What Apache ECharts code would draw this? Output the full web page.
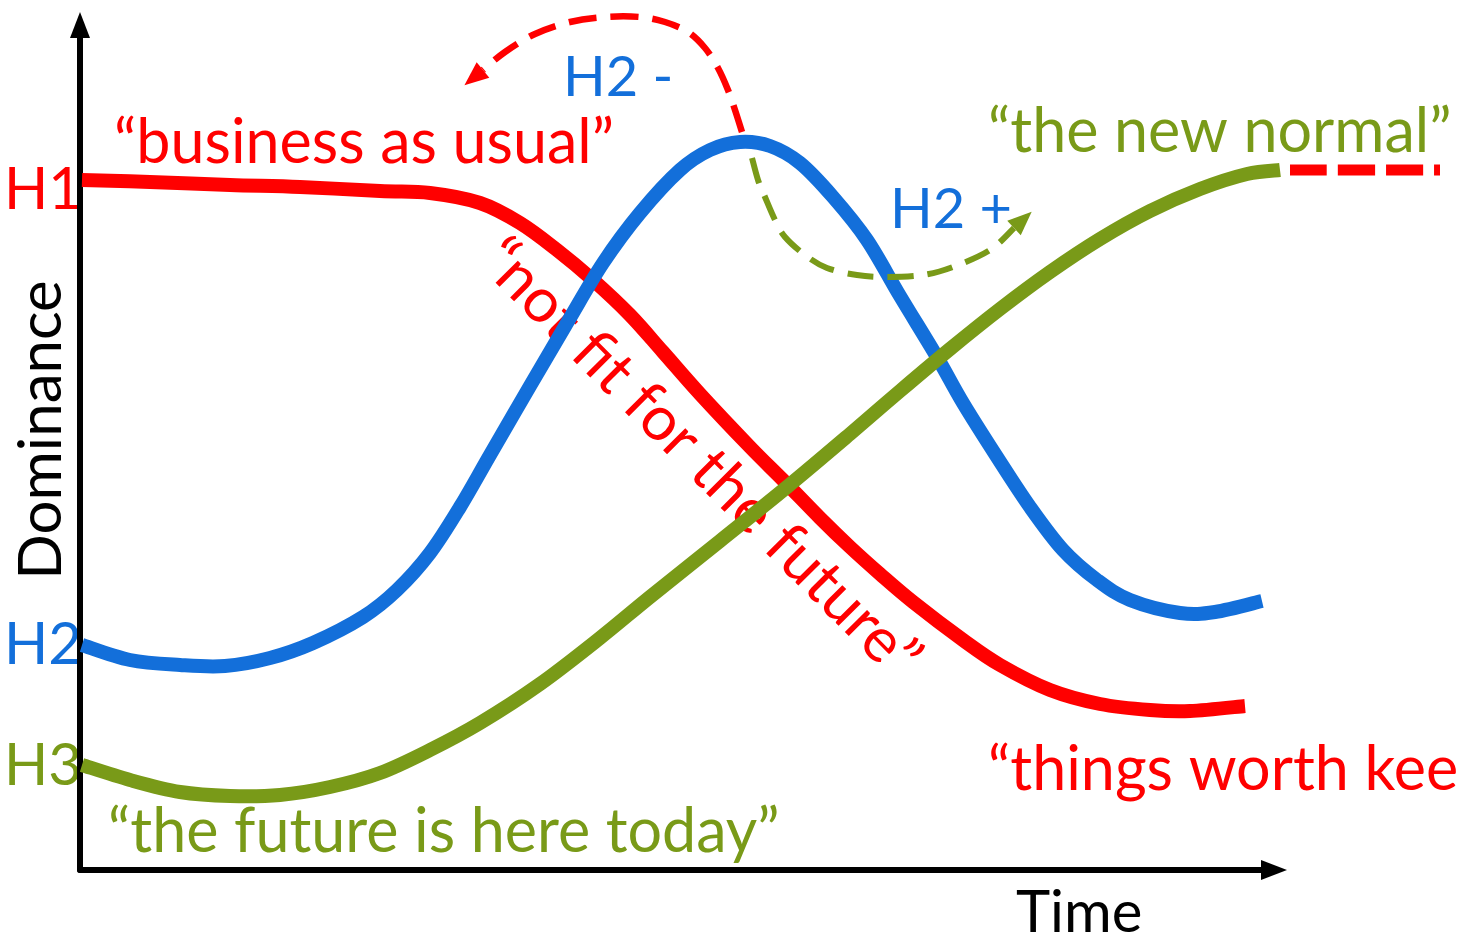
<!DOCTYPE html>
<html><head><meta charset="utf-8">
<script src="https://cdn.jsdelivr.net/npm/echarts@6/dist/echarts.min.js"></script>
<style>html,body{margin:0;padding:0;background:#fff;overflow:hidden}#c{width:1460px;height:941px}</style>
</head><body><div id="c"></div>
<script>
// Three Horizons: values in abstract units (time, dominance)
const h1Values = [[0.2,69],[7,68.8],[15,68.5],[22,68.3],[30,67.9],[35,67.7],[40,66.7],[44,64.7],[47.7,62],[51.3,59],[55,55.5],[58.3,51.8],[62,47.6],[67,42.3],[70.3,39],[74,35.2],[77,32.3],[80,29.6],[83.3,26.8],[88.3,23],[92,20.5],[97,18],[102,16.6],[107,16],[111,15.9],[116.5,16.4]];
const h2Values = [[0.2,22.5],[5,21],[10,20.5],[14.5,20.4],[19,21.2],[23.3,22.7],[28.3,25.3],[31.7,28],[35,31.7],[38,36.3],[41,41.5],[45,48.4],[48.7,54.7],[52.3,60.7],[56,65.7],[60,70],[63,72],[66,72.8],[69,72.4],[72,70.7],[75.3,67.3],[78.7,63],[82,57.4],[85.7,51.3],[88.3,46.7],[91.7,41.3],[95,36.3],[98.3,32],[101.7,29],[105,27],[110,25.7],[113.5,25.8],[118.2,26.9]];
const h3Values = [[0.2,10.5],[5,9],[10,7.8],[15,7.4],[20,7.5],[25,8.3],[30,9.7],[35,12],[40,14.7],[46,18.6],[52,23.2],[57,27.3],[64,32.9],[70.7,38.3],[77,43.6],[82,47.9],[87,52.1],[92,56.1],[97,59.8],[102,63.1],[107,65.9],[112,68.1],[116.7,69.6],[120,70]];
const h1Continuation = [[121,70],[136,70]];
const h2MinusArc = [[66.2,73.8],[65.5,76],[64.8,78],[63.8,80.2],[62.5,82.2],[60.8,83.8],[58.5,84.8],[56,85.3],[52.5,85.3],[49,84.8],[45.5,83.6],[42.5,81.8],[40.3,80]];
const h2PlusArc = [[67.2,71.2],[67.8,69],[68.5,67.3],[69.5,65],[70.5,63.3],[72.5,61.5],[74.7,60.2],[77.7,59.5],[80.7,59.3],[84.3,59.5],[87.3,60.3],[91,62],[93.4,64.2]];

const RED = '#FF0000', BLUE = '#136FDA', GREEN = '#799A18';
const FONT = 'Lato';

// smooth path through the pixel points given by the axes (Catmull-Rom as cubic Bezier)
function smoothPath(pts) {
  let d = 'M' + pts[0][0] + ' ' + pts[0][1];
  for (let i = 0; i < pts.length - 1; i++) {
    const p0 = pts[i - 1] || pts[i], p1 = pts[i], p2 = pts[i + 1], p3 = pts[i + 2] || pts[i + 1];
    const c1x = p1[0] + (p2[0] - p0[0]) / 6, c1y = p1[1] + (p2[1] - p0[1]) / 6;
    const c2x = p2[0] - (p3[0] - p1[0]) / 6, c2y = p2[1] - (p3[1] - p1[1]) / 6;
    d += ' C' + [c1x, c1y, c2x, c2y, p2[0], p2[1]].join(' ');
  }
  return d;
}

function curveSeries(name, values, color, width, dash, arrow) {
  return {
    type: 'custom', name: name, coordinateSystem: 'cartesian2d', clip: false, silent: true,
    encode: {x: 0, y: 1}, data: values,
    renderItem: function (params, api) {
      if (params.dataIndex !== 0) return null;
      const pts = values.map(v => api.coord(v));
      const children = [{
        type: 'path', shape: {pathData: smoothPath(pts)},
        style: {fill: 'none', stroke: color, lineWidth: width, lineDash: dash || null, lineCap: 'butt', lineJoin: 'round'}
      }];
      if (arrow) {
        const a = pts[pts.length - 2], b = pts[pts.length - 1];
        const dx = b[0] - a[0], dy = b[1] - a[1], L = Math.hypot(dx, dy) || 1;
        const ux = dx / L, uy = dy / L, nx = -uy, ny = ux;
        const len = 24, hw = 10;
        children.push({type: 'polygon', shape: {points: [
          [b[0] + ux * len, b[1] + uy * len],
          [b[0] + nx * hw, b[1] + ny * hw],
          [b[0] - nx * hw, b[1] - ny * hw]]}, style: {fill: color}});
      }
      return {type: 'group', children: children};
    }
  };
}

const chart = echarts.init(document.getElementById('c'), null, {renderer: 'canvas'});
const txt = (text, x, y, color, size, extra) => Object.assign({
  type: 'text', x: x, y: y, silent: true,
  style: {text: text, fill: color, font: size + 'px ' + FONT, textVerticalAlign: 'middle'}
}, extra || {});

chart.setOption({
  animation: false,
  backgroundColor: '#fff',
  grid: {left: 80, right: 186, top: 25, bottom: 71},
  xAxis: {type: 'value', min: 0, max: 119.4, splitLine: {show: false}, axisTick: {show: false}, axisLabel: {show: false},
    axisLine: {show: true, symbol: ['none', 'triangle'], symbolSize: [20, 26], lineStyle: {color: '#000', width: 6}}},
  yAxis: {type: 'value', min: 0, max: 84.5, splitLine: {show: false}, axisTick: {show: false}, axisLabel: {show: false},
    axisLine: {show: true, symbol: ['none', 'triangle'], symbolSize: [20, 26], lineStyle: {color: '#000', width: 6}}},
  series: [
    curveSeries('H1', h1Values, RED, 14),
    curveSeries('H2', h2Values, BLUE, 14),
    curveSeries('H3', h3Values, GREEN, 14),
    curveSeries('H1 continuation', h1Continuation, RED, 11, [37, 11]),
    curveSeries('H2 minus', h2MinusArc, RED, 6.5, [28, 14], true),
    curveSeries('H2 plus', h2PlusArc, GREEN, 6, [26, 14], true)
  ],
  graphic: [
    txt('H1', 4, 190, RED, 58),
    txt('H2', 4, 645, BLUE, 58),
    txt('H3', 4, 766, GREEN, 58),
    txt('\u201Cbusiness as usual\u201D', 114, 143, RED, 61),
    txt('H2 -', 563, 78, BLUE, 56),
    txt('\u201Cthe new normal\u201D', 988, 132, GREEN, 61),
    txt('H2 +', 890, 210, BLUE, 56),
    txt('\u201Cthings worth keeping\u201D', 988, 770, RED, 61),
    txt('\u201Cthe future is here today\u201D', 108, 832, GREEN, 61),
    txt('Time', 1016, 913, '#000', 58),
    {type: 'text', x: 42, y: 430, rotation: Math.PI / 2, silent: true,
      style: {text: 'Dominance', fill: '#000', font: '60px ' + FONT, textAlign: 'center', textVerticalAlign: 'middle'}},
    {type: 'text', x: 700, y: 459, rotation: -Math.PI / 4, silent: true,
      style: {text: '\u201Cnot fit for the future\u201D', fill: RED, font: '62px ' + FONT, textAlign: 'center', textVerticalAlign: 'middle'}}
  ]
});
</script>
</body></html>
